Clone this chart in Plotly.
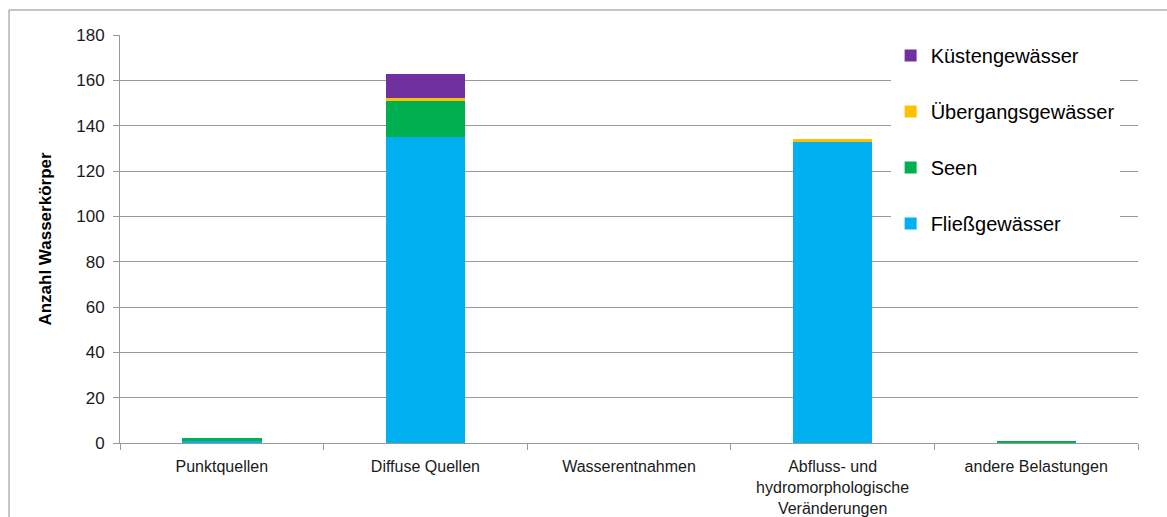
import plotly.graph_objects as go

# Belastungsarten (x-Kategorien)
categories = [
    "Punktquellen",
    "Diffuse Quellen",
    "Wasserentnahmen",
    "Abfluss- und<br>hydromorphologische<br>Veränderungen",
    "andere Belastungen",
]

# Anzahl Wasserkörper je Gewässerkategorie
fliessgewaesser = [1, 135, 0, 133, 0]
seen = [1, 16, 0, 0, 1]
uebergangsgewaesser = [0, 1, 0, 1, 0]
kuestengewaesser = [0, 11, 0, 0, 0]

# (Name, Werte, Farbe, Rang in der Legende)
series = [
    ("Fließgewässer", fliessgewaesser, "#00B0F0", 4),
    ("Seen", seen, "#00B050", 3),
    ("Übergangsgewässer", uebergangsgewaesser, "#FFC000", 2),
    ("Küstengewässer", kuestengewaesser, "#7030A0", 1),
]

fig = go.Figure()
for name, vals, color, rank in series:
    fig.add_trace(go.Bar(
        x=categories, y=vals, name=name, legendgroup=name, legendrank=rank,
        marker=dict(color=color, line=dict(width=0)),
    ))

FONT = "Arial, 'Liberation Sans', sans-serif"

fig.update_layout(
    barmode="stack",
    bargap=0.61,
    width=1167, height=517,
    margin=dict(l=120, r=29, t=35, b=74),
    paper_bgcolor="white",
    plot_bgcolor="white",
    font=dict(family=FONT, color="#1a1a1a"),
    legend=dict(
        x=0.757, y=0.9975, xanchor="left", yanchor="top",
        traceorder="grouped",
        tracegroupgap=27,
        font=dict(size=20, color="#000"),
        bgcolor="white",
        itemwidth=30,
    ),
    showlegend=True,
)

fig.update_yaxes(
    range=[0, 180], dtick=20,
    showgrid=True, gridcolor="#9a9a9a", gridwidth=1,
    showline=True, linecolor="#9a9a9a", linewidth=1,
    ticks="outside", ticklen=6, tickcolor="#9a9a9a",
    ticklabelstandoff=5,
    tickfont=dict(size=17, color="#1a1a1a"),
    zeroline=False,
    automargin=False,
    title=dict(text="<b>Anzahl Wasserkörper</b>", font=dict(size=17, color="#000"), standoff=20),
)

fig.update_xaxes(
    showline=True, linecolor="#9a9a9a", linewidth=1,
    ticks="outside", ticklen=6, tickcolor="#9a9a9a",
    tickson="boundaries",
    ticklabelstandoff=9,
    automargin=False,
    tickfont=dict(size=16, color="#1a1a1a"),
)

# Rahmen um die gesamte Grafik
fig.add_shape(
    type="rect", xref="paper", yref="paper",
    x0=-0.109, x1=1.05, y0=-0.3, y1=1.0613,
    line=dict(color="#8c8c8c", width=1), fillcolor="rgba(0,0,0,0)",
    layer="below",
)

fig.write_html("out.html")
